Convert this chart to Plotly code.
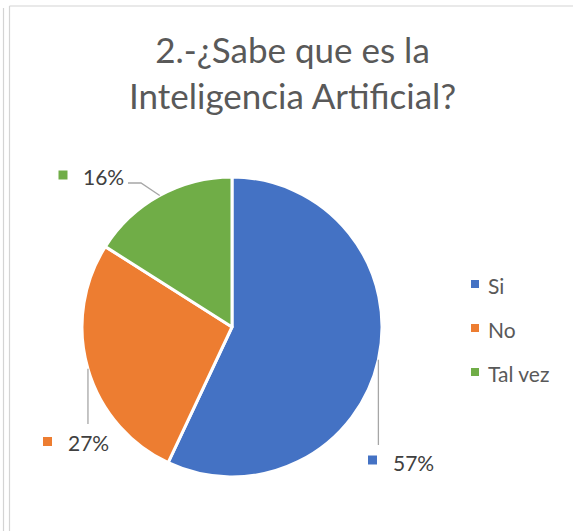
import math
import plotly.graph_objects as go

# ---- data ----
categories = ["Si", "No", "Tal vez"]
values = [57, 27, 16]
colors = ["#4472C4", "#ED7D31", "#70AD47"]
title_text = "2.-¿Sabe que es la<br>Inteligencia Artificial?"

# ---- layout constants (pixels) ----
W, H = 573, 531
CX, CY, R = 232, 327, 150
FONT = "Lato, 'Open Sans', sans-serif"


def px(x):
    return x / W


def py(y):
    return 1 - y / H


fig = go.Figure(
    go.Pie(
        labels=categories,
        values=values,
        sort=False,
        direction="clockwise",
        rotation=0,
        marker=dict(colors=colors, line=dict(color="white", width=3)),
        textinfo="none",
        hoverinfo="label+percent",
        showlegend=False,
        domain=dict(x=[px(CX - R), px(CX + R)], y=[py(CY + R), py(CY - R)]),
    )
)

shapes = []
annotations = []

# data label placement (label text centre, marker centre, leader route)
label_layout = {
    "Si": dict(text=(413, 462), marker=(372.5, 460), route=[("v", 445)]),
    "No": dict(text=(88, 442), marker=(47.5, 441.5), route=[("v", 424)]),
    "Tal vez": dict(text=(103, 177), marker=(63, 175), route=[("p", (141, 183)), ("p", (128, 183))]),
}

total = sum(values)
cum = 0
for cat, val, col in zip(categories, values, colors):
    mid = (cum + val / 2) / total * 2 * math.pi
    cum += val
    ax = CX + R * math.sin(mid)
    ay = CY - R * math.cos(mid)
    lay = label_layout[cat]
    pts = [(ax, ay)]
    for kind, v in lay["route"]:
        if kind == "v":
            pts.append((pts[-1][0], v))
        else:
            pts.append(v)
    path = "M " + " L ".join(f"{px(x)},{py(y)}" for x, y in pts)
    shapes.append(dict(type="path", xref="paper", yref="paper", path=path,
                       line=dict(color="#A6A6A6", width=1.3)))
    mx, my = lay["marker"]
    shapes.append(dict(type="rect", xref="paper", yref="paper",
                       x0=px(mx - 4.5), x1=px(mx + 4.5), y0=py(my + 4.5), y1=py(my - 4.5),
                       fillcolor=col, line=dict(width=0)))
    pct = round(val / total * 100)
    tx, ty = lay["text"]
    annotations.append(dict(text=f"{pct}%", x=px(tx), y=py(ty), xref="paper", yref="paper",
                            showarrow=False, xanchor="center", yanchor="middle",
                            font=dict(family=FONT, size=21, color="#404040")))

# legend (manual, Excel style)
leg_y = [284, 328, 372]
for cat, col, y in zip(categories, colors, leg_y):
    shapes.append(dict(type="rect", xref="paper", yref="paper",
                       x0=px(471), x1=px(479), y0=py(y + 4), y1=py(y - 4),
                       fillcolor=col, line=dict(width=0)))
    annotations.append(dict(text=cat, x=px(486), y=py(y + 1), xref="paper", yref="paper",
                            showarrow=False, xanchor="left", yanchor="middle",
                            font=dict(family=FONT, size=21, color="#595959")))

# title
annotations.append(dict(text=title_text, x=px(292), y=py(72), xref="paper", yref="paper",
                        showarrow=False, xanchor="center", yanchor="middle",
                        font=dict(family=FONT, size=35, color="#595959")))

# chart frame lines
border = "#D4D4D4"
shapes += [
    dict(type="line", xref="paper", yref="paper", x0=px(3.5), x1=px(3.5), y0=py(8), y1=0,
         line=dict(color=border, width=1.2)),
    dict(type="line", xref="paper", yref="paper", x0=px(9.5), x1=px(9.5), y0=py(6), y1=0,
         line=dict(color=border, width=1.2)),
    dict(type="line", xref="paper", yref="paper", x0=px(9.5), x1=1, y0=py(6), y1=py(6),
         line=dict(color=border, width=1.2)),
]

fig.update_layout(
    width=W, height=H,
    margin=dict(l=0, r=0, t=0, b=0),
    paper_bgcolor="white",
    plot_bgcolor="white",
    shapes=shapes,
    annotations=annotations,
    showlegend=False,
)

fig.write_html("out.html", config={"displayModeBar": False},
               post_script="document.body.style.margin='0px';")
